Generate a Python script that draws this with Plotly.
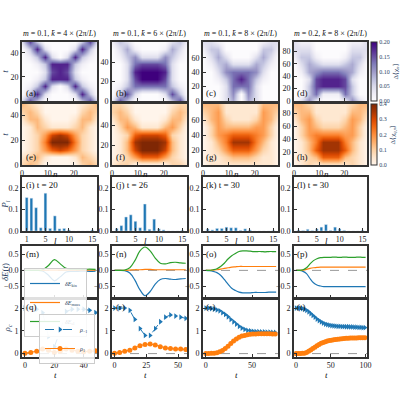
import plotly.graph_objects as go
import numpy as np

# ---------------- data ----------------
tmax = [49, 61, 82, 95]
titles = ["<i>m</i> = 0.1, <i>k̄</i> = 4 × (2π/<i>L</i>)", "<i>m</i> = 0.1, <i>k̄</i> = 6 × (2π/<i>L</i>)",
          "<i>m</i> = 0.1, <i>k̄</i> = 8 × (2π/<i>L</i>)", "<i>m</i> = 0.2, <i>k̄</i> = 8 × (2π/<i>L</i>)"]
# digit grids (row 0 = t=0), digit/9 * zmax
chi_a = ["27300000372","03820002830","01382028310","00138883100","00027872000","00138883100","01382028310","03820002830","27300000372"]
chi_b = ["17300000371","03720002730","01366666310","00279997200","00289998200","00267776200","01352225310","02410001420","13200000231"]
chi_c = ["00024042000","00025052000","00026662000","00136863100","00256665200","01342224310","02420002420","13300000331","22100000122"]
chi_d = ["02510001520","00361116300","00378887300","00278887200","01456665410","02432223420","13310001331","22200000222","21100000112"]
chq_e = ["23200000232","12310001321","01246764210","01259995210","01247874210","01321112310","13310001331","23200000232","32100000123"]
chq_f = ["12200000221","01246664210","01379997310","01389998310","01267776210","02431113420","13310001331","23200000232","22100000122"]
chq_g = ["01111111110","01123332110","01246664210","01358885310","02456665420","02433334420","13421112431","23411111432","33311111333"]
chq_h = ["01211111210","01236663210","01368886310","01358885310","02455554420","02432223420","13421112431","23311111332","33211111233"]

ell = list(range(1, 16))
P_i = [.155,.152,.108,.015,.175,.012,.07,.01,.012,.005,0,0,0,0,.005]
P_j = [.012,.025,.065,.075,.045,.015,.125,.008,.055,.01,.005,0,0,0,.003]
P_k = [.01,.005,.012,.012,.018,.015,.015,.003,.01,.005,0,0,0,0,.002]
P_l = [.004,.002,.008,.002,.01,.018,.03,.003,.018,.01,.003,0,0,0,.003]
bar_t = [20, 26, 30, 30]

tE_m = list(range(0, 49, 4))
Eel_m = [0,0,0,0.02,0.15,0.33,0.2,0.06,0.04,0.04,0.03,0.04,0.03]
Ekin_m = [0,0,0,-0.02,-0.15,-0.32,-0.2,-0.05,-0.03,-0.03,-0.02,-0.03,-0.02]
Emass_m = [0,0,0,0,0.005,0.01,0.005,0.005,0.005,0.005,0.005,0.005,0.005]
tE_n = list(range(0, 57, 4))
Eel_n = [0,0,0.01,0.08,0.3,0.6,0.72,0.6,0.38,0.22,0.2,0.24,0.25,0.23,0.22]
Ekin_n = [0,0,-0.01,-0.08,-0.3,-0.6,-0.78,-0.65,-0.42,-0.28,-0.25,-0.27,-0.28,-0.26,-0.25]
Emass_n = [0,0,0,0.01,0.02,0.02,0.03,0.03,0.02,0.02,0.02,0.02,0.02,0.02,0.02]
tE_o = list(range(0, 77, 4))
Eel_o = [0,0,0.02,0.05,0.12,0.22,0.35,0.45,0.52,0.58,0.6,0.6,0.59,0.58,0.58,0.58,0.57,0.58,0.58,0.58]
Ekin_o = [0,-0.01,-0.03,-0.07,-0.15,-0.28,-0.42,-0.55,-0.62,-0.67,-0.69,-0.69,-0.69,-0.68,-0.68,-0.68,-0.68,-0.67,-0.67,-0.67]
Emass_o = [0,0,0.01,0.02,0.04,0.06,0.08,0.1,0.11,0.12,0.12,0.12,0.12,0.12,0.12,0.12,0.12,0.12,0.12,0.12]
tE_p = list(range(0, 101, 5))
Eel_p = [0,0,0.02,0.08,0.2,0.3,0.36,0.39,0.4,0.4,0.4,0.41,0.4,0.4,0.41,0.4,0.4,0.4,0.41,0.4,0.4]
Ekin_p = [0,0,-0.03,-0.1,-0.25,-0.38,-0.45,-0.48,-0.5,-0.5,-0.5,-0.5,-0.5,-0.5,-0.5,-0.5,-0.5,-0.5,-0.5,-0.5,-0.5]
Emass_p = [0,0,0.01,0.03,0.06,0.08,0.09,0.1,0.1,0.1,0.1,0.1,0.1,0.1,0.1,0.1,0.1,0.1,0.1,0.1,0.1]

tr_q = list(range(0, 49, 4))
rm_q = [2.0,2.0,1.95,1.8,0.75,0.3,1.0,1.85,1.95,1.95,1.95,1.9,1.8]
rp_q = [0.02,0.05,0.1,0.2,0.15,0.05,0.1,0.2,0.15,0.1,0.08,0.1,0.12]
tr_r = list(range(0, 57, 4))
rm_r = [2,2,2,1.9,1.5,1.1,0.8,0.8,1.1,1.4,1.6,1.7,1.65,1.6,1.55]
rp_r = [0.02,0.05,0.1,0.15,0.25,0.35,0.4,0.42,0.38,0.3,0.25,0.22,0.2,0.2,0.18]
tr_s = list(range(0, 76, 3))
rm_s = [2.0,2.0,1.98,1.96,1.92,1.88,1.8,1.72,1.62,1.5,1.4,1.3,1.2,1.12,1.06,1.02,1.0,0.98,0.97,0.96,0.95,0.95,0.94,0.94,0.93,0.93]
rp_s = [0,0,0.01,0.02,0.04,0.08,0.14,0.22,0.32,0.44,0.55,0.64,0.72,0.77,0.8,0.83,0.85,0.86,0.86,0.87,0.87,0.87,0.87,0.87,0.86,0.86]
tr_t = list(range(0, 100, 3))
rm_t = [2.0,2.0,1.99,1.98,1.95,1.9,1.84,1.76,1.68,1.6,1.52,1.45,1.39,1.34,1.3,1.27,1.25,1.23,1.22,1.21,1.2,1.2,1.19,1.19,1.18,1.18,1.17,1.17,1.16,1.16,1.15,1.15,1.14,1.14]
rp_t = [0,0,0,0.01,0.02,0.05,0.1,0.16,0.22,0.28,0.34,0.4,0.45,0.49,0.52,0.55,0.57,0.59,0.61,0.62,0.63,0.64,0.65,0.66,0.67,0.67,0.68,0.68,0.69,0.69,0.7,0.7,0.7,0.7]

# ---------------- layout ----------------
W = H = 400
cols = [(22, 97), (112, 187), (203, 278), (294, 367)]
rows = [(42, 101), (104, 165), (177, 231), (246, 298), (299, 357)]
xr = [[-2, 49], [-2, 57], [-3, 78], [-3, 102]]
FONT = "Liberation Serif"
BLUE, ORANGE, GREEN = "#1f77b4", "#ff7f0e", "#2ca02c"

fig = go.Figure()
layout = {}
annots = []
idx = [0]

def axes(c, r, xopt, yopt):
    idx[0] += 1
    i = idx[0]
    s = "" if i == 1 else str(i)
    base = dict(showline=True, mirror=True, linewidth=1.6, linecolor="#333", ticks="inside",
                ticklen=3, tickcolor="#333", showgrid=False, zeroline=False, automargin=False,
                tickfont=dict(size=8, family=FONT, color="#222"))
    x0, x1 = cols[c]; y0, y1 = rows[r]
    layout["xaxis" + s] = dict(base, domain=[x0 / W, x1 / W], anchor="y" + s, **xopt)
    layout["yaxis" + s] = dict(base, domain=[1 - y1 / H, 1 - y0 / H], anchor="x" + s, **yopt)
    return "x" + s, "y" + s

def lab(xa, ya, text, x=0.02, y=0.98, ay="top"):
    annots.append(dict(xref=xa + " domain", yref=ya + " domain", x=x, y=y, xanchor="left", yanchor=ay,
                       text=text, showarrow=False, font=dict(size=9, family=FONT, color="#111")))

def xtitle(xa, ya, text, x=0.5, dy=-11):
    annots.append(dict(xref=xa + " domain", yref=ya + " domain", x=x, y=0, yshift=dy, xanchor="center",
                       yanchor="middle", text=text, showarrow=False, font=dict(size=9, family=FONT, color="#111")))

def grid(g):
    return np.array([[int(ch) for ch in row] for row in g], dtype=float) / 9.0

chis = [chi_a, chi_b, chi_c, chi_d]
chqs = [chq_e, chq_f, chq_g, chq_h]
n_vals = np.linspace(0, 29, 11)
letters = "abcdefghijklmnopqrst"
YT = lambda txt: dict(text=txt, standoff=2, font=dict(size=9, family=FONT))
for c in range(4):
    tv = np.linspace(0, tmax[c], 9)
    tt = [[0, 20, 40], [0, 20, 40], [0, 20, 40, 60], [0, 20, 40, 60, 80]][c]
    for r, (g, cs, zmax) in enumerate([(chis[c], "Purples", 0.2), (chqs[c], "Oranges", 0.4)]):
        xa, ya = axes(c, r, dict(range=[0, 29], tickvals=[0, 10, 20], showticklabels=(r == 1)),
                      dict(range=[0, tmax[c]], tickvals=tt, title=YT("<i>t</i>" if c == 0 else "")))
        if r == 1:
            xtitle(xa, ya, "<i>n</i>", x=0.45, dy=-9)
        cb = None
        show = (c == 3)
        if show:
            y0, y1 = rows[r]
            common = dict(x=371 / W, xanchor="left", y=1 - y1 / H, yanchor="bottom", len=(y1 - y0) / H,
                          lenmode="fraction", thickness=6, ypad=0, xpad=0, ticklen=2,
                          tickfont=dict(size=6, family=FONT), outlinewidth=1, outlinecolor="#333")
            if r == 0:
                cb = dict(common, tickvals=[0, .05, .1, .15, .2], ticktext=["0.00", "0.05", "0.10", "0.15", "0.20"],
                          title=dict(text="Δ⟨χ<sub><i>n</i></sub>⟩", side="right", font=dict(size=7, family=FONT)))
            else:
                cb = dict(common, tickvals=[0, .1, .2, .3, .4], ticktext=["0.0", "0.1", "0.2", "0.3", "0.4"],
                          title=dict(text="Δ⟨χ<sub><i>q,n</i></sub>⟩", side="right", font=dict(size=7, family=FONT)))
        fig.add_trace(go.Heatmap(x=n_vals, y=tv, z=grid(g) * zmax, zmin=0, zmax=zmax, colorscale=cs,
                                 zsmooth="best", showscale=show, colorbar=cb, xaxis=xa, yaxis=ya))
        lab(xa, ya, "(" + letters[c + 4 * r] + ")", x=0.02, y=0.02, ay="bottom")
        if r == 0:
            annots.append(dict(xref=xa + " domain", yref=ya + " domain", x=0.5, y=1.03, xanchor="center",
                               yanchor="bottom", text=titles[c], showarrow=False,
                               font=dict(size=8, family=FONT, color="#111")))

Ps = [P_i, P_j, P_k, P_l]
for c in range(4):
    xa, ya = axes(c, 2, dict(range=[0, 16], tickvals=[1, 5, 10, 15]),
                  dict(range=[0, 0.25], tickvals=[0, 0.1, 0.2], ticktext=["0.0", "0.1", "0.2"],
                       title=YT("<i>P<sub>l</sub></i>" if c == 0 else "")))
    fig.add_trace(go.Bar(x=ell, y=Ps[c], marker_color=BLUE, width=0.6, xaxis=xa, yaxis=ya, showlegend=False))
    lab(xa, ya, "(" + letters[8 + c] + ") t = %d" % bar_t[c])
    xtitle(xa, ya, "<i>l</i>", x=0.45, dy=-10)

Es = [(tE_m, Ekin_m, Emass_m, Eel_m), (tE_n, Ekin_n, Emass_n, Eel_n),
      (tE_o, Ekin_o, Emass_o, Eel_o), (tE_p, Ekin_p, Emass_p, Eel_p)]
Rs = [(tr_q, rm_q, rp_q), (tr_r, rm_r, rp_r), (tr_s, rm_s, rp_s), (tr_t, rm_t, rp_t)]
tks = [[0, 20, 40], [0, 25, 50], [0, 50], [0, 50, 100]]
for c in range(4):
    t, ek, em, ee = Es[c]
    xa, ya = axes(c, 3, dict(range=xr[c], tickvals=tks[c], showticklabels=False),
                  dict(range=[-0.85, 0.75], tickvals=[-0.5, 0, 0.5], ticktext=["−0.5", "0.0", "0.5"],
                       title=YT("<i>δE</i>(<i>t</i>)" if c == 0 else "")))
    fig.add_trace(go.Scatter(x=xr[c], y=[0, 0], mode="lines", line=dict(color="#999", dash="dash", width=1),
                             xaxis=xa, yaxis=ya, showlegend=False))
    for y, col, name in [(ek, BLUE, "<i>δE</i><sub>kin</sub>"), (em, ORANGE, "<i>δE</i><sub>mass</sub>"),
                         (ee, GREEN, "<i>δE</i><sub>el</sub>")]:
        fig.add_trace(go.Scatter(x=t, y=y, mode="lines", line=dict(color=col, width=1.2, shape="spline"),
                                 name=name, showlegend=(c == 0), legend="legend", xaxis=xa, yaxis=ya))
    lab(xa, ya, "(" + letters[12 + c] + ")")

    t, rm, rp = Rs[c]
    xa, ya = axes(c, 4, dict(range=xr[c], tickvals=tks[c]),
                  dict(range=[-0.15, 2.4], tickvals=[0, 1, 2], title=YT("<i>ρ<sub>c</sub></i>" if c == 0 else "")))
    xtitle(xa, ya, "<i>t</i>", x=0.45, dy=-18)
    fig.add_trace(go.Scatter(x=xr[c], y=[0, 0], mode="lines", line=dict(color="#999", dash="dash", width=1),
                             xaxis=xa, yaxis=ya, showlegend=False))
    fig.add_trace(go.Scatter(x=t, y=rm, mode="lines+markers", name="<i>ρ</i><sub>−1</sub>",
                             line=dict(color=BLUE, dash="dash", width=1), marker=dict(symbol="triangle-right", size=5),
                             showlegend=(c == 0), legend="legend2", xaxis=xa, yaxis=ya))
    fig.add_trace(go.Scatter(x=t, y=rp, mode="lines+markers", name="<i>ρ</i><sub>1</sub>",
                             line=dict(color=ORANGE, width=1), marker=dict(symbol="circle", size=5),
                             showlegend=(c == 0), legend="legend2", xaxis=xa, yaxis=ya))
    lab(xa, ya, "(" + letters[16 + c] + ")")

leg = dict(bgcolor="rgba(255,255,255,0.85)", bordercolor="#ccc", borderwidth=1,
           font=dict(size=6, family=FONT), tracegroupgap=0, itemwidth=30)
layout["legend"] = dict(leg, x=24 / W, y=1 - 268 / H, xanchor="left", yanchor="top")
layout["legend2"] = dict(leg, x=95 / W, y=1 - 314 / H, xanchor="right", yanchor="top")
fig.update_layout(width=W, height=H, margin=dict(l=0, r=0, t=0, b=0, autoexpand=False), plot_bgcolor="white",
                  paper_bgcolor="white", annotations=annots, bargap=0.3, **layout)
fig.write_html("out.html", config={"displayModeBar": False},
               post_script="document.body.style.margin='0';document.body.style.overflow='hidden';")
